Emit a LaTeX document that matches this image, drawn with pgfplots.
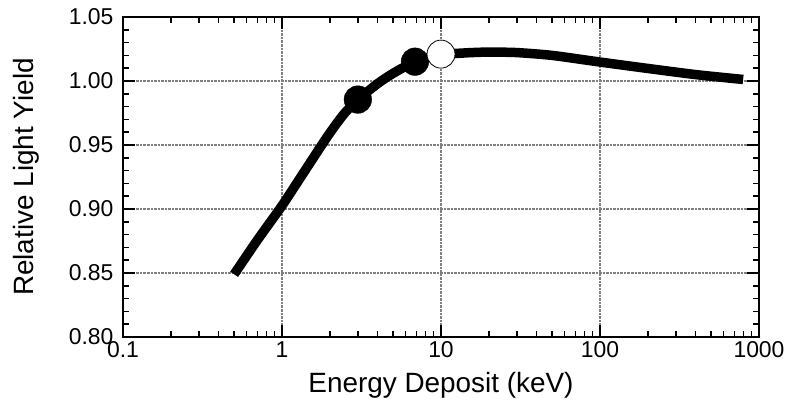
\documentclass[border=0pt]{standalone}
\usepackage{fontspec}
\setmainfont{Liberation Sans}
\usepackage{pgfplots}
\pgfplotsset{compat=1.18}
\begin{document}
\begin{tikzpicture}
\begin{axis}[
  xmode=log,
  scale only axis, width=636bp, height=320bp,
  xmin=0.1, xmax=1000, ymin=0.80, ymax=1.05,
  xtick={0.1,1,10,100,1000}, xticklabels={0.1,1,10,100,1000},
  ytick={0.80,0.85,0.90,0.95,1.00,1.05},
  minor y tick num=4,
  /pgf/number format/assume math mode=true,
  yticklabel style={/pgf/number format/.cd, fixed, fixed zerofill, precision=2, /tikz/.cd, xshift=-6bp},
  xticklabel style={yshift=-1bp},
  ticklabel style={font=\fontsize{23}{27}\selectfont},
  label style={font=\fontsize{28}{33}\selectfont},
  xlabel={Energy Deposit (keV)}, ylabel={Relative Light Yield},
  xlabel style={at={(axis description cs:0.5,-0.172)}, anchor=base},
  ylabel style={at={(axis description cs:-0.1525,0.5)}, anchor=center},
  major tick length=12bp, minor tick length=6bp,
  every tick/.style={line width=1.5bp, black},
  axis line style={line width=1.8bp},
  grid=major,
  grid style={densely dotted, gray, line width=1.3bp},
]
\addplot[black, line width=9.5bp, smooth, tension=0.4] coordinates {
(0.5,0.849) (0.7,0.8757) (1,0.9026) (1.334,0.9263) (1.778,0.950) (2,0.9594)
(2.25,0.9682) (2.5,0.9754) (3,0.9855) (4,0.998) (5,1.006) (6.86,1.0151)
(10,1.0205) (14.5,1.022) (20,1.0226) (30,1.0222) (50,1.020) (100,1.0148)
(200,1.0098) (400,1.0050) (795,1.0012)
};
\addplot[only marks, mark=*, mark size=13.8bp, black] coordinates {
(3,0.9855) (6.86,1.0151)
};
\addplot[only marks, mark=*, mark size=14bp, mark options={fill=white, draw=black, line width=0.8bp}] coordinates {
(10,1.021)
};
\end{axis}
\pgfresetboundingbox
\path[use as bounding box] (-123bp,-62bp) rectangle (665bp,337bp);
\end{tikzpicture}
\end{document}
